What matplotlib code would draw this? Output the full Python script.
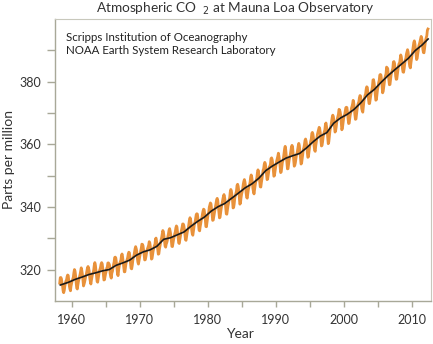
import numpy as np
import matplotlib
matplotlib.use("Agg")
import matplotlib.pyplot as plt

# monthly mean CO2 (ppm), Mauna Loa, Mar 1958 .. May 2012
first_year = 1958
first_month = 3
co2_monthly = [
    315.71, 317.45, 317.50, 317.10, 315.86, 314.93, 313.20, 312.66, 313.33, 314.67,
    315.62, 316.38, 316.71, 317.72, 318.29, 318.15, 316.54, 314.80, 313.84, 313.26, 314.80, 315.58,
    316.43, 316.97, 317.58, 319.02, 320.03, 319.59, 318.18, 315.91, 314.16, 313.83, 315.00, 316.19,
    316.93, 317.70, 318.54, 319.48, 320.58, 319.77, 318.57, 316.79, 314.80, 315.38, 316.10, 317.01,
    317.94, 318.56, 319.68, 320.63, 321.01, 320.55, 319.58, 317.40, 316.26, 315.42, 316.69, 317.69,
    318.74, 319.08, 319.86, 321.39, 322.25, 321.47, 319.74, 317.77, 316.21, 315.99, 317.12, 318.31,
    319.57, 320.07, 320.73, 321.77, 322.25, 321.89, 320.44, 318.70, 316.70, 316.79, 317.79, 318.71,
    319.44, 320.44, 320.89, 322.13, 322.16, 321.87, 321.39, 318.81, 317.81, 317.30, 318.87, 319.42,
    320.62, 321.59, 322.39, 323.87, 324.01, 323.75, 322.39, 320.37, 318.64, 318.10, 319.79, 321.08,
    322.07, 322.50, 323.04, 324.42, 325.00, 324.09, 322.55, 320.92, 319.31, 319.31, 320.72, 321.96,
    322.57, 323.15, 323.89, 325.02, 325.57, 325.36, 324.14, 322.03, 320.41, 320.25, 321.31, 322.84,
    324.00, 324.42, 325.64, 326.66, 327.34, 326.76, 325.88, 323.67, 322.38, 321.78, 322.85, 324.11,
    325.03, 325.99, 326.87, 328.13, 328.07, 327.66, 326.35, 324.69, 323.10, 323.16, 323.98, 325.13,
    326.17, 326.68, 327.18, 327.78, 328.92, 328.57, 327.34, 325.46, 323.36, 323.57, 324.80, 326.01,
    326.77, 327.63, 327.75, 329.72, 330.07, 329.09, 328.05, 326.32, 324.93, 325.06, 326.50, 327.55,
    328.54, 329.56, 330.30, 331.50, 332.48, 332.07, 330.87, 329.31, 327.51, 327.18, 328.16, 328.64,
    329.35, 330.71, 331.48, 332.65, 333.09, 332.25, 331.18, 329.40, 327.43, 327.37, 328.46, 329.57,
    330.40, 331.40, 332.04, 333.31, 333.96, 333.59, 331.91, 330.06, 328.56, 328.34, 329.49, 330.76,
    331.75, 332.56, 333.50, 334.58, 334.57, 334.19, 332.96, 331.29, 329.53, 329.35, 330.71, 331.84,
    332.75, 333.24, 334.53, 335.90, 336.57, 336.10, 334.76, 332.59, 331.42, 330.98, 332.24, 333.68,
    334.80, 335.22, 336.47, 337.59, 337.84, 337.72, 336.37, 334.51, 332.60, 332.38, 333.75, 334.78,
    336.05, 336.59, 337.79, 338.71, 339.30, 339.12, 337.56, 335.92, 333.75, 333.70, 335.12, 336.56,
    337.84, 338.19, 339.91, 340.60, 341.29, 341.00, 339.39, 337.43, 335.72, 335.84, 336.93, 338.04,
    339.06, 340.30, 341.21, 342.33, 342.74, 342.08, 340.32, 338.26, 336.52, 336.68, 338.19, 339.44,
    340.57, 341.44, 342.53, 343.39, 343.96, 343.18, 341.88, 339.65, 337.81, 337.69, 339.09, 340.32,
    341.20, 342.35, 342.93, 344.77, 345.58, 345.14, 343.81, 342.21, 339.69, 339.82, 340.98, 342.82,
    343.52, 344.33, 345.11, 346.88, 347.25, 346.62, 345.22, 343.11, 340.90, 341.18, 342.80, 344.04,
    344.79, 345.82, 347.25, 348.17, 348.74, 347.97, 346.53, 344.48, 343.08, 342.80, 344.24, 345.56,
    346.29, 346.96, 347.86, 349.55, 350.21, 349.54, 347.94, 345.91, 344.86, 344.17, 345.66, 346.90,
    348.02, 348.47, 349.42, 350.99, 351.84, 351.25, 349.52, 348.10, 346.44, 346.36, 347.81, 348.96,
    350.43, 351.72, 352.22, 353.59, 354.22, 353.79, 352.39, 350.44, 348.72, 348.88, 350.07, 351.34,
    352.76, 353.07, 353.68, 355.42, 355.67, 355.13, 353.90, 351.67, 349.80, 349.99, 351.30, 352.53,
    353.66, 354.70, 355.39, 356.20, 357.16, 356.22, 354.82, 352.91, 350.96, 351.18, 352.83, 354.21,
    354.72, 355.75, 357.16, 358.60, 359.34, 358.24, 356.17, 354.03, 352.16, 352.21, 353.75, 354.99,
    355.98, 356.72, 357.81, 359.15, 359.66, 359.25, 357.02, 355.00, 353.01, 353.31, 354.16, 355.40,
    356.70, 357.16, 358.38, 359.46, 360.28, 359.60, 357.57, 355.52, 353.70, 353.98, 355.33, 356.80,
    358.36, 358.91, 359.97, 361.26, 361.68, 360.95, 359.55, 357.49, 355.84, 356.00, 357.58, 359.04,
    359.97, 361.00, 361.64, 363.45, 363.79, 363.26, 361.90, 359.46, 358.06, 357.75, 359.56, 360.70,
    362.05, 363.25, 364.03, 364.72, 365.41, 364.97, 363.65, 361.49, 359.46, 359.60, 360.76, 362.33,
    363.18, 364.00, 364.57, 366.35, 366.79, 365.62, 364.47, 362.51, 360.19, 360.77, 362.43, 364.28,
    365.32, 366.15, 367.31, 368.61, 369.29, 368.87, 367.64, 365.77, 363.90, 364.23, 365.46, 366.97,
    368.15, 368.87, 369.59, 371.14, 371.00, 370.35, 369.27, 366.94, 364.63, 365.12, 366.67, 368.01,
    369.14, 369.46, 370.52, 371.66, 371.82, 371.70, 370.12, 368.12, 366.62, 366.73, 368.29, 369.53,
    370.28, 371.50, 372.12, 372.87, 374.02, 373.30, 371.62, 369.55, 367.96, 368.09, 369.68, 371.24,
    372.44, 373.08, 373.52, 374.85, 375.55, 375.40, 374.02, 371.48, 370.70, 370.25, 372.08, 373.78,
    374.68, 375.63, 376.11, 377.65, 378.35, 378.13, 376.62, 374.50, 372.99, 373.00, 374.35, 375.70,
    376.79, 377.37, 378.41, 380.52, 380.63, 379.57, 377.79, 375.86, 374.06, 374.24, 375.86, 377.48,
    378.37, 379.69, 380.41, 382.10, 382.28, 382.13, 380.66, 378.71, 376.42, 376.88, 378.32, 379.91,
    381.14, 381.82, 382.51, 384.63, 384.42, 384.17, 382.28, 380.49, 378.99, 379.09, 380.53, 382.21,
    383.05, 383.64, 384.23, 386.26, 386.39, 385.87, 384.39, 381.78, 380.73, 380.81, 382.33, 383.69,
    385.05, 385.74, 385.98, 387.16, 388.50, 387.88, 386.38, 384.15, 383.07, 382.98, 384.11, 385.54,
    386.92, 387.41, 388.77, 389.46, 390.18, 389.43, 387.74, 385.91, 384.77, 384.38, 385.99, 387.26,
    388.45, 389.82, 391.08, 392.46, 393.00, 392.12, 390.41, 388.54, 387.03, 387.43, 388.87, 389.99,
    391.50, 392.05, 392.80, 393.44, 394.41, 393.95, 392.72, 390.33, 389.28, 389.19, 390.48, 392.06,
    393.31, 394.04, 394.59, 396.38, 396.78,
]

# annual mean CO2 (ppm), plotted at mid-year as the trend line
trend_years = [
    1958.3, 1959.5, 1960.5, 1961.5, 1962.5, 1963.5, 1964.5, 1965.5, 1966.5, 1967.5,
    1968.5, 1969.5, 1970.5, 1971.5, 1972.5, 1973.5, 1974.5, 1975.5, 1976.5, 1977.5,
    1978.5, 1979.5, 1980.5, 1981.5, 1982.5, 1983.5, 1984.5, 1985.5, 1986.5, 1987.5,
    1988.5, 1989.5, 1990.5, 1991.5, 1992.5, 1993.5, 1994.5, 1995.5, 1996.5, 1997.5,
    1998.5, 1999.5, 2000.5, 2001.5, 2002.5, 2003.5, 2004.5, 2005.5, 2006.5, 2007.5,
    2008.5, 2009.5, 2010.5, 2011.5, 2012.4,
]
co2_annual = [
    315.10, 315.97, 316.91, 317.64, 318.45, 318.99, 319.62, 320.04, 321.38, 322.16,
    323.04, 324.62, 325.68, 326.32, 327.45, 329.68, 330.18, 331.11, 332.04, 333.83,
    335.40, 336.78, 338.68, 340.08, 341.13, 342.78, 344.42, 346.12, 347.39, 349.16,
    351.57, 353.07, 354.35, 355.59, 356.37, 357.07, 358.82, 360.82, 362.59, 363.73,
    366.70, 368.38, 369.55, 371.13, 373.22, 375.80, 377.52, 379.80, 381.90, 383.79,
    385.60, 387.43, 389.90, 391.65, 393.60,
]

x_ticks = [1960, 1970, 1980, 1990, 2000, 2010]
y_ticks = [320, 340, 360, 380]

# decimal year of each monthly value (mid-month)
n = len(co2_monthly)
month_index = np.arange(n) + (first_month - 1)
dec_year = first_year + (month_index + 0.5) / 12.0

plt.rcParams['font.family'] = ['Lato', 'DejaVu Sans']
axis_grey = '#a8a898'
text_grey = '#333333'

fig = plt.figure(figsize=(4.33, 3.44), dpi=100)
ax = fig.add_axes([0.126, 0.125, 0.869, 0.820])

ax.plot(dec_year, co2_monthly, color='#e8913a', lw=2.0, solid_joinstyle='round')
ax.plot(trend_years, co2_annual, color='#1a1a1a', lw=1.2)

ax.set_xlim(1957.45, 2012.8)
ax.set_ylim(310, 400)
ax.set_xticks(x_ticks)
ax.set_xticks(np.arange(1965, 2011, 10), minor=True)
ax.set_yticks(y_ticks)
ax.set_yticks(np.arange(330, 391, 20), minor=True)

for side in ['left', 'bottom']:
    ax.spines[side].set_color(axis_grey)
    ax.spines[side].set_linewidth(1.0)
for side in ['top', 'right']:
    ax.spines[side].set_color('#c8c8bc')
    ax.spines[side].set_linewidth(0.8)

ax.tick_params(which='both', direction='out', color=axis_grey, width=1.0,
               labelsize=9, labelcolor=text_grey, top=False, right=False)
ax.tick_params(axis='y', which='both', length=5.5, pad=4)
ax.tick_params(axis='x', which='both', length=4.5, pad=5)

ax.set_xlabel('Year', fontsize=10, color=text_grey, va='center')
ax.set_ylabel('Parts per million', fontsize=10, color=text_grey, va='center')
ax.xaxis.set_label_coords(0.493, -0.117)
ax.yaxis.set_label_coords(-0.121, 0.5)

fig.text(0.543, 0.974, r'Atmospheric CO  $_{2}$ at Mauna Loa Observatory',
         ha='center', va='center', fontsize=9.8, color=text_grey)

ax.text(0.03, 0.955, 'Scripps Institution of Oceanography\nNOAA Earth System Research Laboratory',
        transform=ax.transAxes, ha='left', va='top', fontsize=8.3,
        color='#222222', linespacing=1.25)

fig.savefig('out.png', dpi=100)
